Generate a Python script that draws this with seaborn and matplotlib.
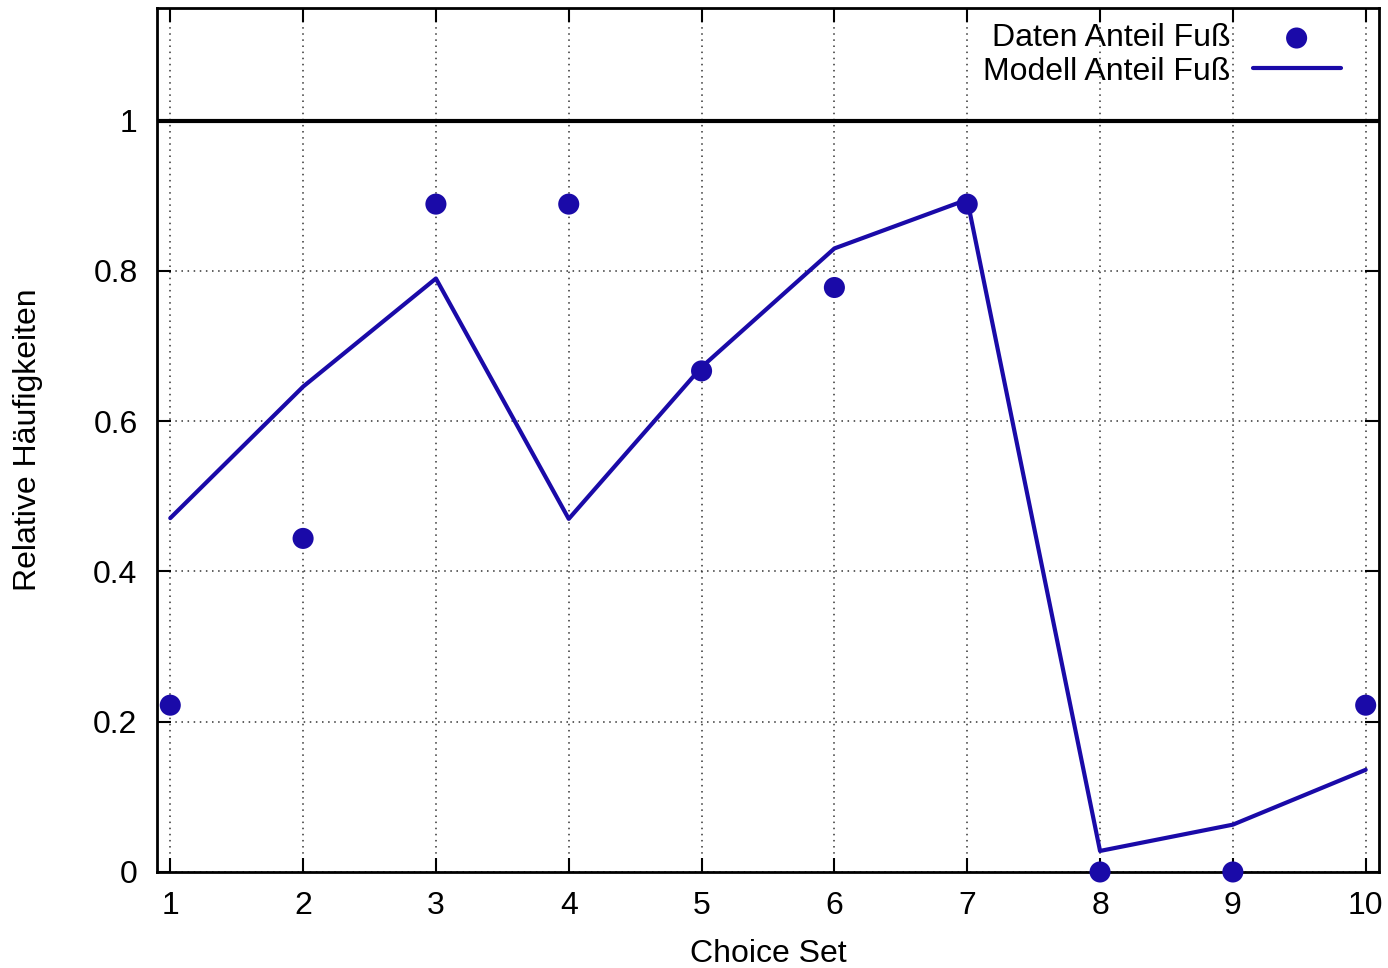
import matplotlib
matplotlib.use("Agg")
import matplotlib.pyplot as plt
import seaborn as sns
import pandas as pd

# Choice sets 1..10
choice_set = [1, 2, 3, 4, 5, 6, 7, 8, 9, 10]
daten_fuss = [0.222, 0.444, 0.889, 0.889, 0.667, 0.778, 0.889, 0.0, 0.0, 0.222]
modell_fuss = [0.471, 0.646, 0.790, 0.470, 0.672, 0.830, 0.895, 0.028, 0.063, 0.136]
y_ticks = [0, 0.2, 0.4, 0.6, 0.8, 1]
y_tick_labels = ["0", "0.2", "0.4", "0.6", "0.8", "1"]

df = pd.DataFrame({"set": choice_set, "daten": daten_fuss, "modell": modell_fuss})

sns.set_style("ticks")
plt.rcParams["font.family"] = ["Liberation Sans", "DejaVu Sans"]
plt.rcParams["font.size"] = 23
plt.rcParams["text.color"] = "black"
plt.rcParams["axes.labelcolor"] = "black"

blue = "#1a0aa8"
fs = 23

fig = plt.figure(figsize=(13.88, 9.68), dpi=100)
ax = fig.add_axes([0.1131, 0.0992, 0.8804, 0.8925])

sns.scatterplot(data=df, x="set", y="daten", ax=ax, color=blue, s=230,
                edgecolor="none", label="Daten Anteil Fuß", zorder=4, clip_on=False)
sns.lineplot(data=df, x="set", y="modell", ax=ax, color=blue, lw=3,
             label="Modell Anteil Fuß", zorder=3)
ax.axhline(1, color="black", lw=3, zorder=2)

ax.set_xlim(0.9, 10.1)
ax.set_ylim(0, 1.15)
ax.set_xticks(choice_set)
ax.set_yticks(y_ticks)
ax.set_yticklabels(y_tick_labels)
ax.grid(True, color="#333333", linestyle=(0, (1, 3)), lw=1.1)
ax.tick_params(direction="in", length=10, width=1.5, top=True, right=True,
               labelsize=fs, pad=14, colors="black")
for sp in ax.spines.values():
    sp.set_linewidth(2)
    sp.set_color("black")

ax.set_xlabel("Choice Set", fontsize=fs, labelpad=13)
ax.set_ylabel("Relative Häufigkeiten", fontsize=fs, labelpad=36)

leg = ax.legend(loc="upper right", bbox_to_anchor=(0.979, 0.997), frameon=False,
                markerfirst=False, fontsize=fs, handlelength=2.75,
                borderaxespad=0, labelspacing=0.1, handletextpad=0.7)
for t in leg.get_texts():
    t.set_ha("right")

fig.savefig("out.png", dpi=100)
